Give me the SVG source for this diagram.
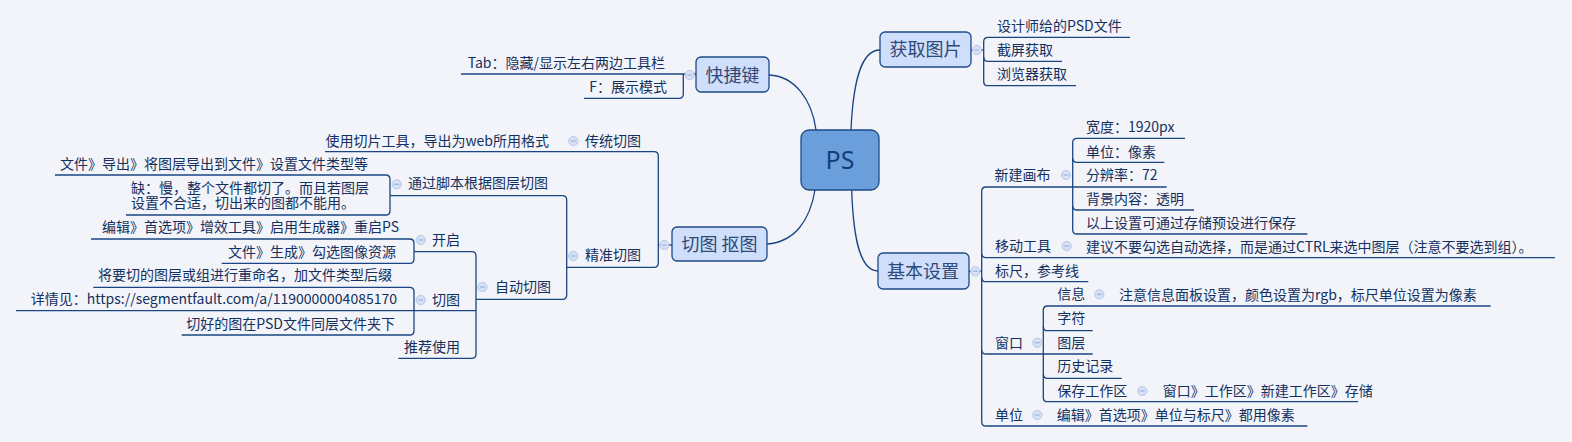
<svg xmlns="http://www.w3.org/2000/svg" width="1572" height="442" viewBox="0 0 1572 442">
<style>
.t{font-family:"Noto Sans CJK SC","Noto Sans",sans-serif;font-size:14px;fill:#13305e}
.e{text-anchor:end}
.m{font-family:"Noto Sans CJK SC","Noto Sans",sans-serif;font-size:18px;fill:#2f4a78;text-anchor:middle}
.l{fill:none;stroke:#1a4582;stroke-width:1.3}
.box{fill:#cfdefa;stroke:#1e4a86;stroke-width:1.3}
.cc{fill:#d6e1f6;stroke:#b4c6ea;stroke-width:1}
.cm{stroke:#9fb2da;stroke-width:1.2}
</style>
<defs>
<g id="col"><circle class="cc" r="4.6"/><line class="cm" x1="-2.4" y1="0" x2="2.4" y2="0"/></g>
</defs>
<rect width="1572" height="442" fill="#f3f4f9"/>
<g id="connectors">
<path class="l" d="M816,130 C812,100 795,76 769,75"/>
<path class="l" d="M851,130 C853,85 860,50 880,50"/>
<path class="l" d="M815,190 C810,220 795,242 767,244"/>
<path class="l" d="M851.7,190 C853,230 858,271 878,271"/>
<!-- 快捷键 -->
<path class="l" d="M461,74 H696"/>
<path class="l" d="M683.3,74 V94 Q683.3,98.3 679,98.3 H584"/>
<!-- 获取图片 -->
<path class="l" d="M971,50 H983.7"/>
<path class="l" d="M1130,37.3 H988 Q983.7,37.3 983.7,41.6 V81.4 Q983.7,85.7 988,85.7 H1076"/>
<path class="l" d="M983.7,57 Q983.7,61.3 988,61.3 H1062"/>
<!-- 切图 抠图 -->
<path class="l" d="M658.3,245 H672"/>
<path class="l" d="M325,151.7 H654 Q658.3,151.7 658.3,156 V263 Q658.3,267.3 654,267.3 H566.7"/>
<path class="l" d="M390,195.7 H562.4 Q566.7,195.7 566.7,200 V295 Q566.7,299.3 562.4,299.3 H476"/>
<path class="l" d="M55,175 H385.7 Q390,175 390,179.3 V210.7 Q390,215 385.7,215 H126"/>
<path class="l" d="M414,251.7 H471.7 Q476,251.7 476,256 V354 Q476,358.3 471.7,358.3 H398.3"/>
<path class="l" d="M16,310.7 H476"/>
<path class="l" d="M91,239 H409.7 Q414,239 414,243.3 V259 Q414,263.3 409.7,263.3 H221.7"/>
<path class="l" d="M93.3,287.3 H409.7 Q414,287.3 414,291.6 V330.7 Q414,335 409.7,335 H181.7"/>
<!-- 基本设置 -->
<path class="l" d="M969,271.3 H981.7"/>
<path class="l" d="M1072.7,187 H986 Q981.7,187 981.7,191.3 V421.7 Q981.7,426 986,426 H1307.3"/>
<path class="l" d="M981.7,253.4 Q981.7,257.7 986,257.7 H1555"/>
<path class="l" d="M981.7,277.4 Q981.7,281.7 986,281.7 H1088.3"/>
<path class="l" d="M981.7,349.7 Q981.7,354 986,354 H1092.7"/>
<path class="l" d="M1185,138.3 H1077 Q1072.7,138.3 1072.7,142.6 V229.7 Q1072.7,234 1077,234 H1307.3"/>
<path class="l" d="M1072.7,158 Q1072.7,162.3 1077,162.3 H1164.3"/>
<path class="l" d="M1072.7,187 H1166.7"/>
<path class="l" d="M1072.7,205.7 Q1072.7,210 1077,210 H1194"/>
<path class="l" d="M1490.7,306 H1047.6 Q1043.3,306 1043.3,310.3 V397.4 Q1043.3,401.7 1047.6,401.7 H1358"/>
<path class="l" d="M1043.3,326.4 Q1043.3,330.7 1047.6,330.7 H1092.7"/>
<path class="l" d="M1043.3,374 Q1043.3,378.3 1047.6,378.3 H1121.7"/>
</g>
<g id="ps">
<rect x="801" y="130" width="78" height="60" rx="8" fill="#6a9fdc" stroke="#1e4a86" stroke-width="1.3"/>
<text x="840" y="168.5" text-anchor="middle" font-family="Noto Sans, sans-serif" font-size="25" fill="#143e7a">PS</text>
</g>
<g id="kuaijiejian">
<rect class="box" x="696" y="57" width="73" height="35" rx="5"/>
<text class="m" x="732.5" y="81.8">快捷键</text>
<use href="#col" x="689.7" y="75"/>
</g>
<g id="k1"><text class="t e" x="665" y="68">Tab：隐藏/显示左右两边工具栏</text></g>
<g id="k2"><text class="t e" x="667" y="92">F：展示模式</text></g>
<g id="huoqu">
<rect class="box" x="880" y="32" width="91" height="35" rx="5"/>
<text class="m" x="925.5" y="56.3">获取图片</text>
<use href="#col" x="977" y="50"/>
</g>
<g id="h1"><text class="t" x="997" y="31">设计师给的PSD文件</text></g>
<g id="h2"><text class="t" x="997" y="55">截屏获取</text></g>
<g id="h3"><text class="t" x="997" y="79">浏览器获取</text></g>
<g id="qietu">
<rect class="box" x="672" y="227" width="95" height="34" rx="5"/>
<text class="m" x="719.5" y="250.8">切图 抠图</text>
<use href="#col" x="664.3" y="245"/>
</g>
<g id="chuantong"><text class="t e" x="641" y="145.7">传统切图</text><use href="#col" x="573.3" y="141"/></g>
<g id="ct1"><text class="t e" x="549" y="145.7">使用切片工具，导出为web所用格式</text></g>
<g id="jingzhun"><text class="t e" x="641" y="260.3">精准切图</text><use href="#col" x="573.3" y="256"/></g>
<g id="jiaoben"><text class="t e" x="548" y="188.3">通过脚本根据图层切图</text><use href="#col" x="396.7" y="184.3"/></g>
<g id="jb1"><text class="t e" x="368" y="169.3">文件》导出》将图层导出到文件》设置文件类型等</text></g>
<g id="jb2"><text class="t" x="131" y="192.7">缺：慢，整个文件都切了。而且若图层<tspan x="131" y="208.3">设置不合适，切出来的图都不能用。</tspan></text></g>
<g id="zidong"><text class="t e" x="551" y="291.7">自动切图</text><use href="#col" x="482.3" y="287"/></g>
<g id="kaiqi"><text class="t e" x="460" y="245">开启</text><use href="#col" x="420.7" y="240"/></g>
<g id="kq1"><text class="t e" x="399" y="232.3">编辑》首选项》增效工具》启用生成器》重启PS</text></g>
<g id="kq2"><text class="t e" x="396" y="256.7">文件》生成》勾选图像资源</text></g>
<g id="qie"><text class="t e" x="460" y="305">切图</text><use href="#col" x="420.7" y="300"/></g>
<g id="q1"><text class="t e" x="392" y="280">将要切的图层或组进行重命名，加文件类型后缀</text></g>
<g id="q2"><text class="t e" x="397" y="304.3">详情见：https://segmentfault.com/a/1190000004085170</text></g>
<g id="q3"><text class="t e" x="395" y="329">切好的图在PSD文件同层文件夹下</text></g>
<g id="tuijian"><text class="t e" x="460" y="351.7">推荐使用</text></g>
<g id="jiben">
<rect class="box" x="878" y="253" width="91" height="36" rx="5"/>
<text class="m" x="923" y="277.8">基本设置</text>
<use href="#col" x="975.3" y="271.3"/>
</g>
<g id="xinjian"><text class="t" x="994.5" y="180">新建画布</text><use href="#col" x="1066" y="175"/></g>
<g id="xj1"><text class="t" x="1086" y="132.3">宽度：1920px</text></g>
<g id="xj2"><text class="t" x="1086" y="156.5">单位：像素</text></g>
<g id="xj3"><text class="t" x="1086" y="180">分辨率：72</text></g>
<g id="xj4"><text class="t" x="1086" y="203.5">背景内容：透明</text></g>
<g id="xj5"><text class="t" x="1086" y="227.7">以上设置可通过存储预设进行保存</text></g>
<g id="yidong"><text class="t" x="995" y="251">移动工具</text><use href="#col" x="1066.7" y="246"/></g>
<g id="yd1"><text class="t" x="1086" y="251.5">建议不要勾选自动选择，而是通过CTRL来选中图层（注意不要选到组）。</text></g>
<g id="biaochi"><text class="t" x="995" y="276">标尺，参考线</text></g>
<g id="chuangkou"><text class="t" x="995" y="347.7">窗口</text><use href="#col" x="1037.3" y="342.7"/></g>
<g id="xinxi"><text class="t" x="1057.3" y="299.3">信息</text><use href="#col" x="1099.3" y="294.3"/></g>
<g id="xx1"><text class="t" x="1119" y="300">注意信息面板设置，颜色设置为rgb，标尺单位设置为像素</text></g>
<g id="zifu"><text class="t" x="1057.3" y="323.3">字符</text></g>
<g id="tuceng"><text class="t" x="1057.3" y="347.7">图层</text></g>
<g id="lishi"><text class="t" x="1057.3" y="371">历史记录</text></g>
<g id="baocun"><text class="t" x="1057.3" y="395.7">保存工作区</text><use href="#col" x="1142.3" y="391"/></g>
<g id="bc1"><text class="t" x="1162.7" y="395.7">窗口》工作区》新建工作区》存储</text></g>
<g id="danwei"><text class="t" x="995" y="420">单位</text><use href="#col" x="1037.3" y="415"/></g>
<g id="dw1"><text class="t" x="1056.7" y="420">编辑》首选项》单位与标尺》都用像素</text></g>
</svg>
